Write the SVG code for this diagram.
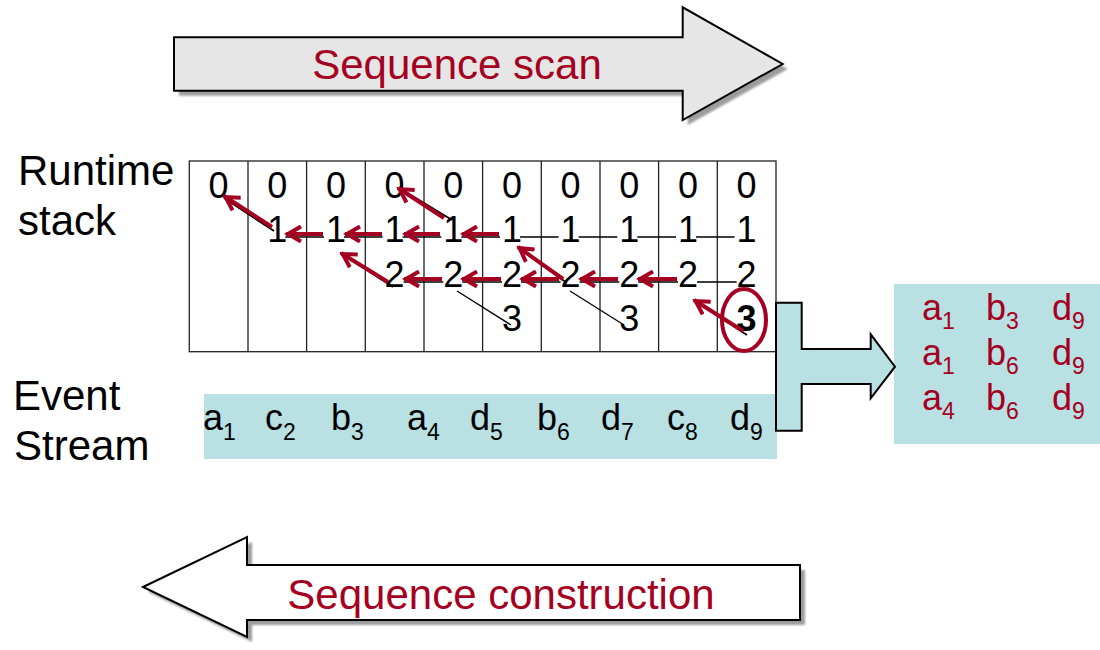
<svg xmlns="http://www.w3.org/2000/svg" width="1100" height="650" viewBox="0 0 1100 650">
  <style>
    text { font-family: "Liberation Sans", Arial, sans-serif; }
    .lbl { font-size: 42px; fill: #000; }
    .title { font-size: 42px; fill: #a50021; text-anchor: middle; }
    .dg { font-size: 36px; fill: #000; text-anchor: middle; }
    .ev { font-size: 36px; fill: #000; }
    .res { font-size: 36px; fill: #a50021; }
    .sub { font-size: 23px; }
    .grid { fill: none; stroke: #222; stroke-width: 1.3; }
    .ptr { stroke: #000; stroke-width: 1.3; fill: none; }
    .link { stroke: #000; stroke-width: 1.8; fill: none; }
    .red { stroke: #a50021; stroke-width: 4; fill: none; marker-end: url(#head); }
    .teal { fill: #b9e0e3; }
    .shadow { fill: #9c9c9c; filter: url(#soft); }
  </style>
  <defs>
    <filter id="soft" x="-5%" y="-10%" width="110%" height="120%">
      <feGaussianBlur stdDeviation="1.2"/>
    </filter>
    <marker id="head" viewBox="0 0 22 20" refX="16" refY="10" markerWidth="22" markerHeight="20" markerUnits="userSpaceOnUse" orient="auto">
      <path d="M1,2.5 L14,10 L1,17.5" fill="none" stroke="#a50021" stroke-width="4"/>
    </marker>
  </defs>
  <rect width="1100" height="650" fill="#fff"/>

  <!-- scan direction arrow -->
  <g id="scan-arrow">
    <path class="shadow" transform="translate(5,5)" d="M174,37.3 H682.7 V7.3 L782.7,64 L682.7,120 V90.7 H174 Z"/>
    <path d="M174,37.3 H682.7 V7.3 L782.7,64 L682.7,120 V90.7 H174 Z" fill="#e6e6e6" stroke="#000" stroke-width="2"/>
    <text class="title" x="457" y="79">Sequence scan</text>
  </g>

  <!-- side labels -->
  <g id="labels">
    <text class="lbl" x="18" y="185">Runtime</text>
    <text class="lbl" x="18" y="235">stack</text>
    <text class="lbl" x="13" y="410">Event</text>
    <text class="lbl" x="14" y="460">Stream</text>
  </g>

  <!-- event stream -->
  <g id="event-stream">
    <rect class="teal" x="204" y="394" width="573" height="65"/>
    <text class="ev" x="203" y="430">a<tspan class="sub" dy="10">1</tspan></text>
    <text class="ev" x="265" y="430">c<tspan class="sub" dy="10">2</tspan></text>
    <text class="ev" x="331" y="430">b<tspan class="sub" dy="10">3</tspan></text>
    <text class="ev" x="407" y="430">a<tspan class="sub" dy="10">4</tspan></text>
    <text class="ev" x="470" y="430">d<tspan class="sub" dy="10">5</tspan></text>
    <text class="ev" x="537" y="430">b<tspan class="sub" dy="10">6</tspan></text>
    <text class="ev" x="601" y="430">d<tspan class="sub" dy="10">7</tspan></text>
    <text class="ev" x="667" y="430">c<tspan class="sub" dy="10">8</tspan></text>
    <text class="ev" x="730" y="430">d<tspan class="sub" dy="10">9</tspan></text>
  </g>

  <!-- runtime stack: one column per event -->
  <g id="runtime-stack">
    <rect class="grid" x="189.3" y="161" width="586.7" height="190.7"/>
    <path class="grid" d="M248,161V351.7 M306.6,161V351.7 M365.3,161V351.7 M424,161V351.7 M482.6,161V351.7 M541.3,161V351.7 M600,161V351.7 M658.6,161V351.7 M717.3,161V351.7"/>
    <!-- level 0 -->
    <text class="dg" x="218.6" y="198">0</text>
    <text class="dg" x="277.3" y="198">0</text>
    <text class="dg" x="336" y="198">0</text>
    <text class="dg" x="394.6" y="198">0</text>
    <text class="dg" x="453.3" y="198">0</text>
    <text class="dg" x="512" y="198">0</text>
    <text class="dg" x="570.6" y="198">0</text>
    <text class="dg" x="629.3" y="198">0</text>
    <text class="dg" x="688" y="198">0</text>
    <text class="dg" x="746.6" y="198">0</text>
    <!-- level 1 -->
    <text class="dg" x="277.3" y="242">1</text>
    <text class="dg" x="336" y="242">1</text>
    <text class="dg" x="394.6" y="242">1</text>
    <text class="dg" x="453.3" y="242">1</text>
    <text class="dg" x="512" y="242">1</text>
    <text class="dg" x="570.6" y="242">1</text>
    <text class="dg" x="629.3" y="242">1</text>
    <text class="dg" x="688" y="242">1</text>
    <text class="dg" x="746.6" y="242">1</text>
    <!-- level 2 -->
    <text class="dg" x="394.6" y="287">2</text>
    <text class="dg" x="453.3" y="287">2</text>
    <text class="dg" x="512" y="287">2</text>
    <text class="dg" x="570.6" y="287">2</text>
    <text class="dg" x="629.3" y="287">2</text>
    <text class="dg" x="688" y="287">2</text>
    <text class="dg" x="746.6" y="287">2</text>
    <!-- level 3 -->
    <text class="dg" x="512" y="331">3</text>
    <text class="dg" x="629.3" y="331">3</text>
    <text class="dg" x="746.6" y="331" font-weight="bold">3</text>
  </g>

  <!-- result sequences -->
  <g id="result-set">
    <rect class="teal" x="894" y="284" width="206" height="160"/>
    <text class="res" x="922" y="320">a<tspan class="sub" dy="9">1</tspan></text>
    <text class="res" x="986" y="320">b<tspan class="sub" dy="9">3</tspan></text>
    <text class="res" x="1052" y="320">d<tspan class="sub" dy="9">9</tspan></text>
    <text class="res" x="922" y="365">a<tspan class="sub" dy="9">1</tspan></text>
    <text class="res" x="986" y="365">b<tspan class="sub" dy="9">6</tspan></text>
    <text class="res" x="1052" y="365">d<tspan class="sub" dy="9">9</tspan></text>
    <text class="res" x="922" y="409.5">a<tspan class="sub" dy="9">4</tspan></text>
    <text class="res" x="986" y="409.5">b<tspan class="sub" dy="9">6</tspan></text>
    <text class="res" x="1052" y="409.5">d<tspan class="sub" dy="9">9</tspan></text>
  </g>

  <!-- output arrow feeding the result set -->
  <g id="output-arrow">
    <path class="teal" d="M776,302.7 H801.7 V349 H870.7 V334.3 L895,366.7 L870.7,398.3 V384 H801.7 V430.7 H776 Z" stroke="#000" stroke-width="2"/>
  </g>

  <!-- construction direction arrow -->
  <g id="construction-arrow">
    <path class="shadow" transform="translate(5,5)" d="M143,587 L247,537 V565 H800 V620 H247 V637 Z"/>
    <path d="M143,587 L247,537 V565 H800 V620 H247 V637 Z" fill="#fff" stroke="#000" stroke-width="2"/>
    <text class="title" x="501" y="609">Sequence construction</text>
  </g>

  <!-- stack pointers and traversal arrows -->
  <g id="connectors">
    <!-- level 1 predecessor links -->
    <path class="ptr" d="M285.3,237H324 M344,237H382.6 M402.6,237H441.3 M461.3,237H500 M520,237H558.6 M578.6,237H617.3 M637.3,237H676 M696,237H734.6"/>
    <!-- level 2 predecessor links -->
    <path class="ptr" d="M403.6,282H443.3 M462.3,282H502 M521,282H560.6 M579.6,282H619.3 M638.3,282H678 M697,282H736.6"/>
    <!-- links to parent level -->
    <path class="link" d="M224,198L274,231 M401,189L452,220 M342,254L393,287 M519,248L567,283 M694,300L747,335"/>
    <path class="ptr" d="M457,291L511,325 M570,291L624,325"/>
    <!-- traversal -->
    <path class="red" d="M323,234H286"/>
    <path class="red" d="M382,234H345"/>
    <path class="red" d="M440,234H404"/>
    <path class="red" d="M499,234H462"/>
    <path class="red" d="M442,279H404"/>
    <path class="red" d="M501,279H462"/>
    <path class="red" d="M559,279H521"/>
    <path class="red" d="M618,279H580"/>
    <path class="red" d="M677,279H638"/>
    <path class="red" d="M272,227L224,196"/>
    <path class="red" d="M444,218L398,188"/>
    <path class="red" d="M388,282L341,253"/>
    <path class="red" d="M563,279L518,247"/>
    <path class="red" d="M743,331L694,300"/>
    <ellipse cx="744" cy="320" rx="22" ry="31" fill="none" stroke="#a50021" stroke-width="4"/>
  </g>
</svg>
